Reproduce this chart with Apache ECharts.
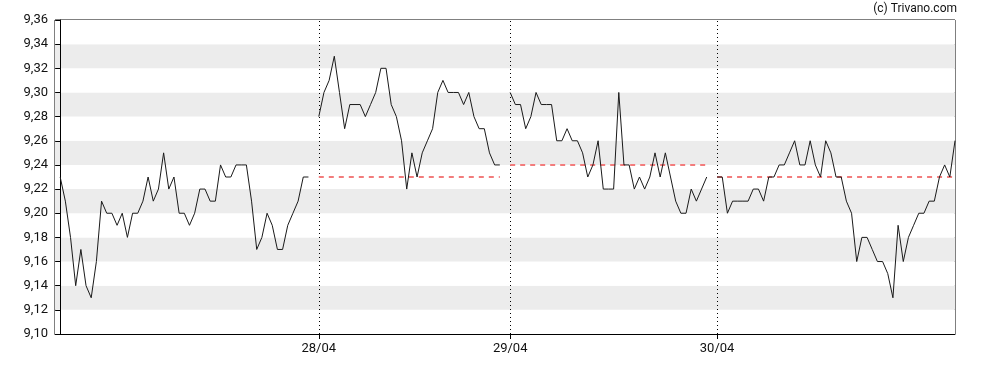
<!DOCTYPE html>
<html>
<head>
<meta charset="utf-8">
<script src="https://cdn.jsdelivr.net/npm/echarts@6/dist/echarts.min.js"></script>
<style>
html,body{margin:0;padding:0;background:#fff;}
#chart{width:988px;height:370px;}
</style>
</head>
<body>
<div id="chart"></div>
<script>
// Intraday prices, one array per trading day
const day1 = [9.23,9.21,9.18,9.14,9.17,9.14,9.13,9.16,9.21,9.20,
              9.20,9.19,9.20,9.18,9.20,9.20,9.21,9.23,9.21,9.22,
              9.25,9.22,9.23,9.20,9.20,9.19,9.20,9.22,9.22,9.21,
              9.21,9.24,9.23,9.23,9.24,9.24,9.24,9.21,9.17,9.18,
              9.20,9.19,9.17,9.17,9.19,9.20,9.21,9.23,9.23];
const day2 = [9.28,9.30,9.31,9.33,9.30,9.27,9.29,9.29,9.29,9.28,
              9.29,9.30,9.32,9.32,9.29,9.28,9.26,9.22,9.25,9.23,
              9.25,9.26,9.27,9.30,9.31,9.30,9.30,9.30,9.29,9.30,
              9.28,9.27,9.27,9.25,9.24,9.24];
const day3 = [9.30,9.29,9.29,9.27,9.28,9.30,9.29,9.29,9.29,9.26,
              9.26,9.27,9.26,9.26,9.25,9.23,9.24,9.26,9.22,9.22,
              9.22,9.30,9.24,9.24,9.22,9.23,9.22,9.23,9.25,9.23,
              9.25,9.23,9.21,9.20,9.20,9.22,9.21,9.22,9.23];
const day4 = [9.23,9.23,9.20,9.21,9.21,9.21,9.21,9.22,9.22,9.21,
              9.23,9.23,9.24,9.24,9.25,9.26,9.24,9.24,9.26,9.24,
              9.23,9.26,9.25,9.23,9.23,9.21,9.20,9.16,9.18,9.18,
              9.17,9.16,9.16,9.15,9.13,9.19,9.16,9.18,9.19,9.20,
              9.20,9.21,9.21,9.23,9.24,9.23,9.26];
// time slot at which each day starts (slots between days are empty)
const dayStartSlots = [0, 50, 87, 127];
const dayLabels = ['', '28/04', '29/04', '30/04'];
// previous close reference for days 2..4
const prevClose = [null, 9.23, 9.24, 9.23];
const yTicks = {min: 9.10, max: 9.36, step: 0.02};
const copyright = '(c) Trivano.com';

const days = [day1, day2, day3, day4];
const lineData = [];
days.forEach((d, i) => {
  d.forEach((v, j) => lineData.push([dayStartSlots[i] + j, v]));
  lineData.push([dayStartSlots[i] + d.length, null]);
});
const lastSlot = dayStartSlots[3] + day4.length - 1;

const labelMap = {};
dayStartSlots.forEach((s, i) => { if (dayLabels[i]) labelMap[s] = dayLabels[i]; });
const labelSlots = dayStartSlots.filter((s, i) => dayLabels[i]);

const refLines = [];
days.forEach((d, i) => {
  if (prevClose[i] == null) return;
  refLines.push([
    {coord: [dayStartSlots[i], prevClose[i]]},
    {coord: [dayStartSlots[i] + d.length - 1, prevClose[i]]}
  ]);
});
const sepLines = labelSlots.map(s => ({xAxis: s}));

const FONT = 'Roboto';
const chart = echarts.init(document.getElementById('chart'), null, {renderer: 'canvas'});
chart.setOption({
  animation: false,
  backgroundColor: '#fff',
  title: {
    text: copyright, right: 31, top: 3, padding: 0,
    textStyle: {fontFamily: FONT, fontSize: 12, fontWeight: 'normal', color: '#111'}
  },
  grid: {left: 55, right: 33, top: 20, bottom: 36, containLabel: false, outerBoundsMode: 'none',
    show: true, borderColor: '#000', borderWidth: 1, backgroundColor: 'transparent'},
  xAxis: {
    type: 'value', min: -1, max: lastSlot,
    axisLine: {show: true, lineStyle: {color: '#000', width: 1}},
    axisTick: {show: true, customValues: labelSlots, length: 5, lineStyle: {color: '#000'}},
    axisLabel: {show: true, customValues: labelSlots, margin: 8, fontFamily: FONT, fontSize: 13, color: '#111',
      formatter: v => labelMap[v] || ''},
    splitLine: {show: false}
  },
  yAxis: {
    type: 'value', min: yTicks.min, max: yTicks.max, interval: yTicks.step,
    axisLine: {show: true, lineStyle: {color: '#000', width: 1}},
    axisTick: {show: true, length: 5, lineStyle: {color: '#000'}},
    axisLabel: {margin: 7, fontFamily: FONT, fontSize: 13, color: '#111',
      formatter: v => v.toFixed(2).replace('.', ',')},
    splitLine: {show: false},
    splitArea: {show: true, areaStyle: {color: ['#ffffff', '#ececec']}}
  },
  series: [{
    type: 'line',
    data: lineData,
    showSymbol: false,
    connectNulls: false,
    lineStyle: {color: '#1a1a1a', width: 1},
    z: 5,
    markLine: {
      silent: true, symbol: 'none', label: {show: false},
      data: [
        ...sepLines.map(l => Object.assign({}, l, {lineStyle: {color: '#000', width: 1, type: [1, 3]}})),
        ...refLines.map(seg => [
          Object.assign({}, seg[0], {lineStyle: {color: '#f27c7c', width: 2, type: [5, 5]}}),
          seg[1]
        ])
      ]
    }
  }]
});
</script>
</body>
</html>
